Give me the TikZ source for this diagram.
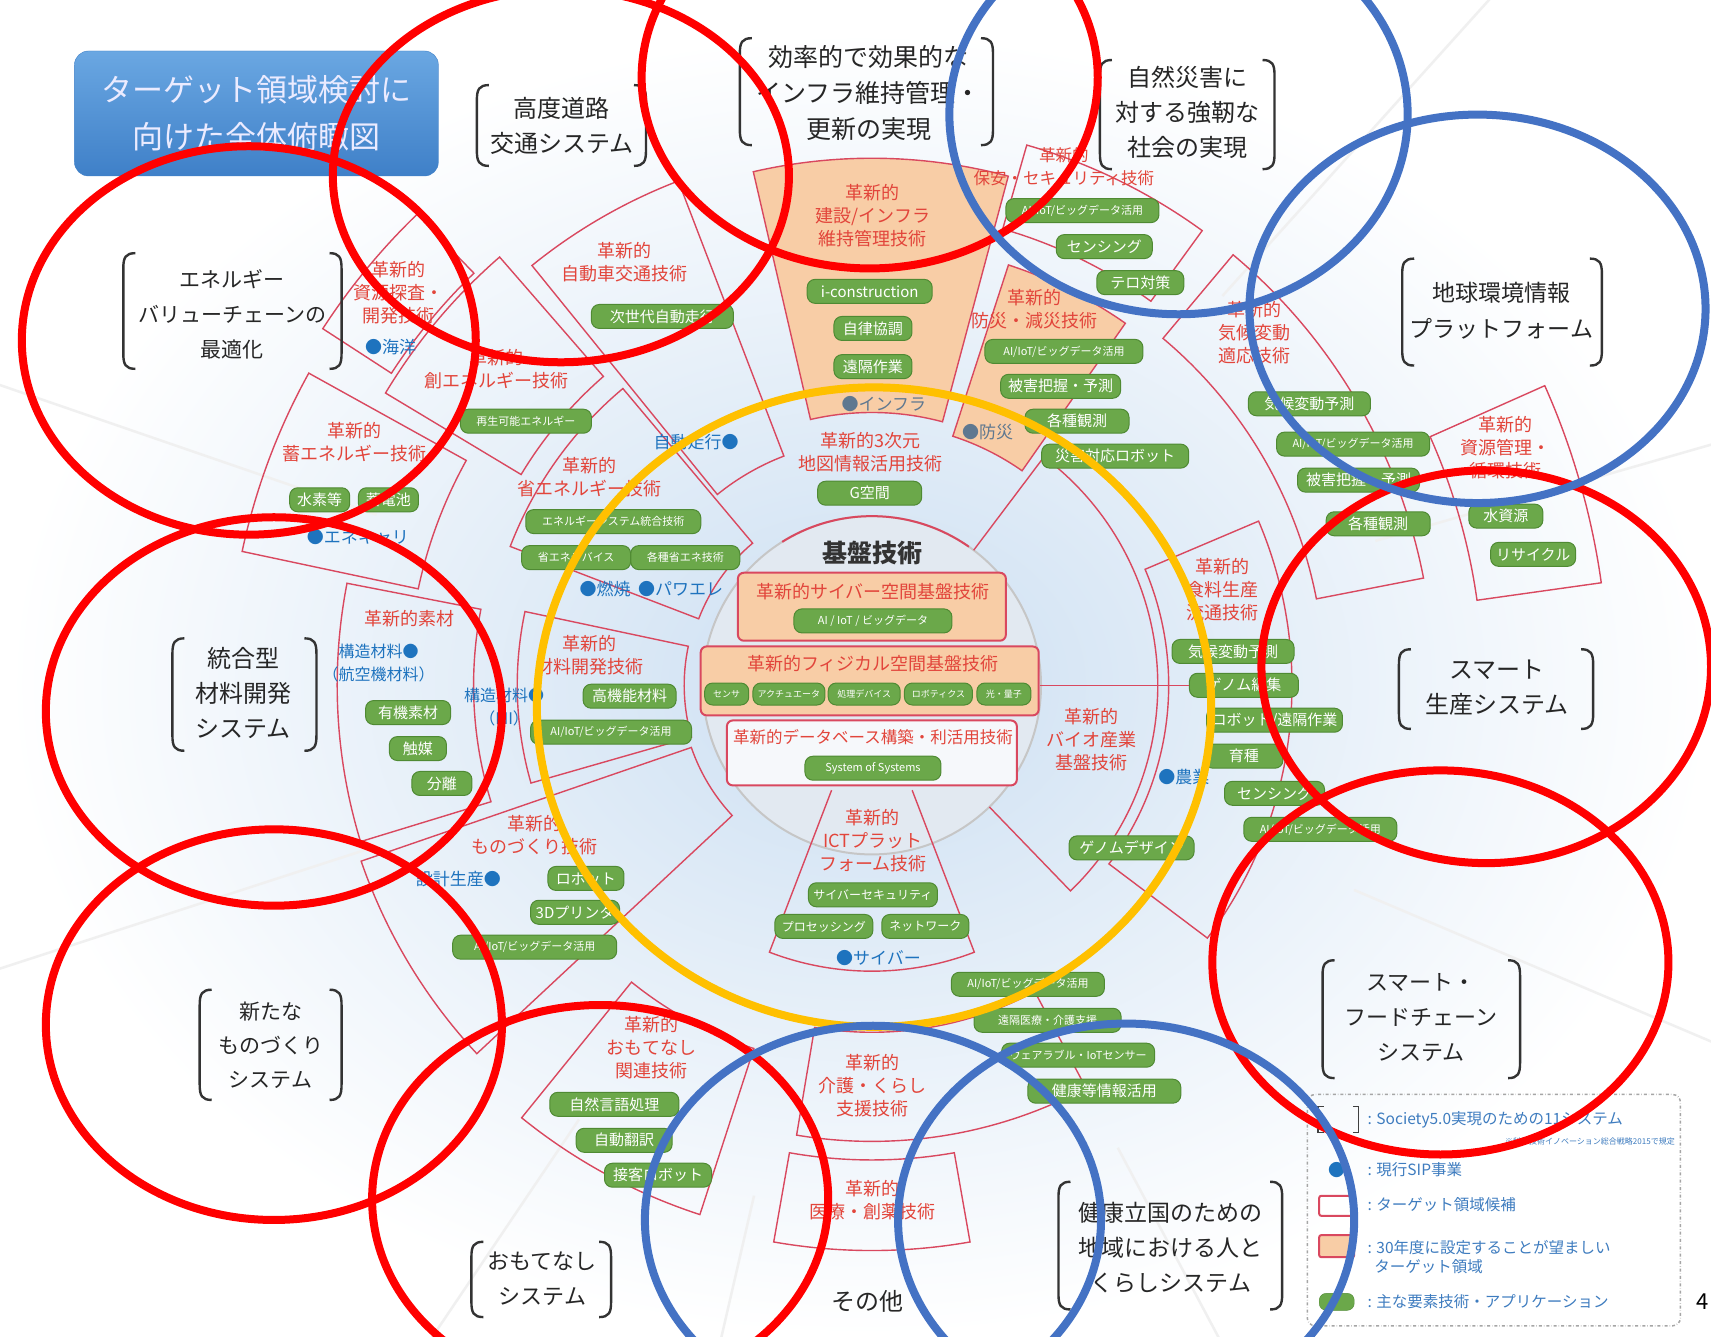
\documentclass[tikz,border=0pt]{standalone}
\usepackage{fontspec}
\setmainfont{Noto Sans CJK JP}
\usetikzlibrary{calc}
\definecolor{secred}{HTML}{D9485F}
\definecolor{txtred}{HTML}{E2453B}
\definecolor{pillg}{HTML}{6BA84A}
\definecolor{pillgd}{HTML}{4F8A33}
\definecolor{orfill}{HTML}{F8CDA6}
\definecolor{sipblue}{HTML}{1E73BE}
\definecolor{sipgray}{HTML}{5F7890}
\definecolor{legblue}{HTML}{3E7CBF}
\definecolor{annred}{HTML}{FF0000}
\definecolor{annblue}{HTML}{4472C4}
\definecolor{annor}{HTML}{FFC000}
\definecolor{bgblue}{HTML}{CCDFF2}
\definecolor{circfill}{HTML}{E2E9F1}
\definecolor{tblue1}{HTML}{6AA7E2}
\definecolor{tblue2}{HTML}{3F80C8}
\newcommand\mysector[5]{%
  \draw[#5] ($(C)+(#1:#3)$) arc[start angle=#1,end angle=#2,radius=#3]
    -- ($(C)+(#2:#4)$) arc[start angle=#2,end angle=#1,radius=#4] -- cycle;}
\newcommand\lbrk[3]{\draw[brk] (#1+11,#2) .. controls (#1+2,#2) and (#1,#2+4) .. (#1,#2+14) -- (#1,#3-14) .. controls (#1,#3-4) and (#1+2,#3) .. (#1+11,#3);}
\newcommand\rbrk[3]{\draw[brk] (#1-11,#2) .. controls (#1-2,#2) and (#1,#2+4) .. (#1,#2+14) -- (#1,#3-14) .. controls (#1,#3-4) and (#1-2,#3) .. (#1-11,#3);}
\begin{document}
\begin{tikzpicture}[x=1.0912pt,y=-1.0912pt,
  sys/.style={align=center,text=black!85},
  tred/.style={align=center,text=txtred,font=\fontsize{18}{23}\selectfont},
  pill/.style={fill=pillg,draw=pillgd,line width=1pt,rounded corners=8pt,text=white,font=\fontsize{15}{17}\selectfont,inner xsep=5pt,inner ysep=0pt,minimum height=24pt},
  spill/.style={pill,font=\fontsize{11}{13}\selectfont},
  tpill/.style={pill,font=\fontsize{9}{11}\selectfont,inner xsep=2pt,minimum height=22pt},
  sip/.style={text=sipblue,font=\fontsize{17}{21}\selectfont,align=center},
  sipg/.style={text=sipgray,font=\fontsize{17}{21}\selectfont},
  sec/.style={draw=secred,line width=1.4pt},
  secor/.style={sec,fill=orfill},
  cbox/.style={draw=secred,line width=2pt,rounded corners=6pt},
  brk/.style={draw=black!80,line width=2.4pt},
  ann/.style={line width=8pt},
  leg/.style={text=legblue,font=\fontsize{15.5}{19}\selectfont,anchor=west},
]
\useasboundingbox (0,0) rectangle (1568,1225);
\clip (0,0) rectangle (1568,1225);
% background
\fill[white] (0,0) rectangle (1568,1225);
\shade[inner color=bgblue,outer color=white] (8,29) rectangle (1568,1225);
\coordinate (C) at (799,628);
\foreach \a in {199,162,312,23,344,103,124,62}
  \draw[gray!12,line width=2.5pt] ($(C)+(\a:480)$) -- ($(C)+(\a:1100)$);
% central disc
\draw[fill=circfill,draw=gray!45,line width=2pt] (C) circle [radius=155];
\draw[secred,line width=2pt] ($(C)+(238:155)$) arc[start angle=238,end angle=305,radius=155];
% sectors
\mysector{257}{285}{250}{483}{secor}
\mysector{288}{305}{240}{405}{secor}
\mysector{286}{306}{435}{515}{sec}
\mysector{231}{249}{225}{495}{sec}
\mysector{213}{226}{525}{600}{sec}
\mysector{211}{229}{375}{520}{sec}
\mysector{192}{209}{425}{590}{sec}
\mysector{201}{230}{170}{355}{sec}
\mysector{163}{191}{365}{490}{sec}
\mysector{164}{192}{172}{325}{sec}
\mysector{137}{161}{175}{495}{sec}
\mysector{108}{129}{350}{510}{sec}
\mysector{62}{99.5}{318}{418}{sec}
\mysector{80}{100}{435}{518}{sec}
\mysector{337}{397}{272}{385}{sec}
\mysector{310}{349}{415}{515}{sec}
\mysector{336}{352}{560}{675}{sec}
\draw[sec] ($(C)+(307:155)$) -- ($(C)+(307:262)$) arc[start angle=307,end angle=406,radius=262] -- ($(C)+(406:155)$);
\draw[sec] ($(C)+(111:103)$) -- ($(C)+(111:262)$) arc[start angle=111,end angle=69,radius=262] -- ($(C)+(69:103)$);
% central content
\node[font=\fontsize{25}{28}\selectfont\bfseries,text=black!80] (kiban) at (800,507) {基盤技術};
\node[cbox,fill=orfill,minimum width=268pt,minimum height=68pt] (cyber) at (799,556) {};
\node[tred] (t-cyber) at (800,542) {革新的サイバー空間基盤技術};
\node[spill,minimum width=158pt] (p-aiiot) at (800,569) {AI / IoT / ビッグデータ};
\node[cbox,fill=orfill,minimum width=338pt,minimum height=69pt] (phys) at (797,624) {};
\node[tred] (t-phys) at (800,608) {革新的フィジカル空間基盤技術};
\node[tpill,minimum width=44pt] (p-sensor) at (666,636) {センサ};
\node[tpill,minimum width=72pt] (p-actu) at (723,636) {アクチュエータ};
\node[tpill,minimum width=72pt] (p-proc) at (792,636) {処理デバイス};
\node[tpill,minimum width=68pt] (p-robo) at (860,636) {ロボティクス};
\node[tpill,minimum width=54pt] (p-light) at (920,636) {光・量子};
\node[cbox,fill=white!70!circfill,minimum width=290pt,minimum height=65pt] (dbox) at (799,690) {};
\node[tred,font=\fontsize{16.5}{20}\selectfont] (t-db) at (800,676) {革新的データベース構築・利活用技術};
\node[spill,minimum width=136pt] (p-sos) at (800,704) {System of Systems};
% top: construction / infra
\node[tred] (t-const) at (800,198) {革新的\\建設/インフラ\\維持管理技術};
\node[pill,minimum width=125pt] (p-icons) at (797,267) {i-construction};
\node[pill,minimum width=78pt] (p-jiritsu) at (800,301) {自律協調};
\node[pill,minimum width=78pt] (p-enkaku) at (800,336) {遠隔作業};
\node[sipg] (b-infra) at (810,370) {●インフラ};
\node[tred] (t-3d) at (798,414) {革新的3次元\\地図情報活用技術};
\node[pill,minimum width=104pt] (p-g) at (797,452) {G空間};
% security
\node[tred,font=\fontsize{16.5}{23}\selectfont] (t-sec) at (975,153) {革新的\\保安・セキュリティ技術};
\node[spill,minimum width=153pt] (p-sec1) at (992,193) {AI/IoT/ビッグデータ活用};
\node[pill,minimum width=96pt] (p-sec2) at (1012,226) {センシング};
\node[pill,minimum width=87pt] (p-sec3) at (1045,259) {テロ対策};
% disaster prevention
\node[tred] (t-bousai) at (948,283) {革新的\\防災・減災技術};
\node[spill,minimum width=158pt] (p-bo1) at (975,322) {AI/IoT/ビッグデータ活用};
\node[pill,minimum width=120pt] (p-bo2) at (972,354) {被害把握・予測};
\node[pill,minimum width=104pt] (p-bo3) at (987,386) {各種観測};
\node[pill,minimum width=147pt] (p-bo4) at (1022,418) {災害対応ロボット};
\node[sipg] (b-bousai) at (905,396) {●防災};
% auto traffic
\node[tred] (t-auto) at (572,240) {革新的\\自動車交通技術};
\node[pill,minimum width=142pt] (p-auto) at (607,290) {次世代自動走行};
\node[sip] (b-auto) at (638,405) {自動走行●};
% resources exploration
\node[tred] (t-shigen) at (365,268) {革新的\\資源探査・\\開発技術};
\node[sip] (b-kaiyo) at (358,318) {●海洋};
% energy creation
\node[tred] (t-sou) at (455,338) {革新的\\創エネルギー技術};
\node[spill,minimum width=131pt] (p-sou) at (482,386) {再生可能エネルギー};
% storage
\node[tred] (t-chiku) at (325,405) {革新的\\蓄エネルギー技術};
\node[pill,minimum width=60pt] (p-h2) at (293,458) {水素等};
\node[pill,minimum width=60pt] (p-batt) at (356,458) {蓄電池};
\node[sip] (b-enecar) at (328,492) {●エネキャリ};
% energy saving
\node[tred] (t-shou) at (540,437) {革新的\\省エネルギー技術};
\node[spill,minimum width=175pt] (p-shou1) at (562,478) {エネルギーシステム統合技術};
\node[spill,minimum width=109pt] (p-shou2) at (528,511) {省エネデバイス};
\node[spill,minimum width=109pt] (p-shou3) at (628,511) {各種省エネ技術};
\node[sip] (b-nensho) at (597,540) {●燃焼\ \ ●パワエレ};
% materials
\node[tred] (t-sozai) at (375,567) {革新的素材};
\node[sip,font=\fontsize{16}{23}\selectfont] (b-kouzou1) at (347,608) {構造材料●\\（航空機材料）};
\node[pill,minimum width=85pt] (p-yuki) at (374,653) {有機素材};
\node[pill,minimum width=57pt] (p-shokubai) at (383,686) {触媒};
\node[pill,minimum width=60pt] (p-bunri) at (405,718) {分離};
\node[tred] (t-zairyo) at (540,600) {革新的\\材料開発技術};
\node[pill,minimum width=93pt] (p-kouki) at (577,638) {高機能材料};
\node[spill,minimum width=161pt] (p-zai2) at (560,671) {AI/IoT/ビッグデータ活用};
\node[sip,font=\fontsize{16}{23}\selectfont] (b-kouzou2) at (462,648) {構造材料●\\（MI）};
% monozukuri
\node[tred] (t-mono) at (490,765) {革新的\\ものづくり技術};
\node[sip] (b-sekkei) at (420,806) {設計生産●};
\node[pill,minimum width=76pt] (p-robot) at (537,805) {ロボット};
\node[pill,minimum width=89pt] (p-3d) at (527,836) {3Dプリンタ};
\node[spill,minimum width=164pt] (p-mono3) at (490,868) {AI/IoT/ビッグデータ活用};
% omotenashi
\node[tred] (t-omo) at (597,960) {革新的\\おもてなし\\関連技術};
\node[pill,minimum width=129pt] (p-nlp) at (563,1012) {自然言語処理};
\node[pill,minimum width=96pt] (p-trans) at (572,1045) {自動翻訳};
\node[pill,minimum width=107pt] (p-serv) at (603,1077) {接客ロボット};
% ICT
\node[tred] (t-ict) at (800,770) {革新的\\ICTプラット\\フォーム技術};
\node[pill,font=\fontsize{12}{14}\selectfont,minimum width=129pt] (p-cyber) at (800,820) {サイバーセキュリティ};
\node[pill,font=\fontsize{12}{14}\selectfont,minimum width=98pt] (p-procg) at (755,849) {プロセッシング};
\node[pill,font=\fontsize{12}{14}\selectfont,minimum width=87pt] (p-net) at (848,849) {ネットワーク};
\node[sip] (b-cyber) at (805,878) {●サイバー};
% care
\node[tred] (t-kaigo) at (800,995) {革新的\\介護・くらし\\支援技術};
\node[spill,minimum width=153pt] (p-ka1) at (942,902) {AI/IoT/ビッグデータ活用};
\node[spill,minimum width=147pt] (p-ka2) at (960,935) {遠隔医療・介護支援};
\node[spill,minimum width=153pt] (p-ka3) at (988,967) {ウェアラブル・IoTセンサー};
\node[pill,minimum width=153pt] (p-ka4) at (1012,1000) {健康等情報活用};
\node[tred] (t-iryo) at (800,1100) {革新的\\医療・創薬技術};
% bio
\node[tred] (t-bio) at (1000,678) {革新的\\バイオ産業\\基盤技術};
\node[pill,minimum width=125pt] (p-gdesign) at (1037,777) {ゲノムデザイン};
\node[sip] (b-nogyo) at (1085,712) {●農業};
% food
\node[tred] (t-food) at (1120,540) {革新的\\食料生産\\流通技術};
\node[pill,minimum width=122pt] (p-f1) at (1130,597) {気候変動予測};
\node[pill,minimum width=109pt] (p-genome) at (1140,628) {ゲノム編集};
\node[pill,minimum width=129pt] (p-f3) at (1168,660) {ロボット/遠隔作業};
\node[pill,minimum width=78pt] (p-f4) at (1140,693) {育種};
\node[pill,minimum width=100pt] (p-f5) at (1168,727) {センシング};
\node[spill,minimum width=153pt] (p-f6) at (1210,760) {AI/IoT/ビッグデータ活用};
\draw[sec] (p-genome.west -| phys.east) -- (p-genome.west);
% climate
\node[tred] (t-kikou) at (1150,305) {革新的\\気候変動\\適応技術};
\node[pill,minimum width=122pt] (p-k1) at (1200,370) {気候変動予測};
\node[spill,minimum width=153pt] (p-k2) at (1240,407) {AI/IoT/ビッグデータ活用};
\node[pill,minimum width=122pt] (p-k3) at (1245,440) {被害把握・予測};
\node[pill,minimum width=104pt] (p-k4) at (1263,480) {各種観測};
% resource management
\node[tred] (t-junkan) at (1380,410) {革新的\\資源管理・\\循環技術};
\node[pill,minimum width=74pt] (p-water) at (1380,473) {水資源};
\node[pill,minimum width=85pt] (p-recycle) at (1405,508) {リサイクル};
% system labels
\node[sys,font=\fontsize{24}{35}\selectfont] (s-road) at (515,115) {高度道路\\交通システム};
\lbrk{437}{78}{152} \rbrk{592}{78}{152}
\node[sys,font=\fontsize{25}{36}\selectfont] (s-infra) at (796,85) {効率的で効果的な\\インフラ維持管理・\\更新の実現};
\lbrk{678}{35}{133} \rbrk{910}{35}{133}
\node[sys,font=\fontsize{24}{35}\selectfont] (s-saigai) at (1088,103) {自然災害に\\対する強靭な\\社会の実現};
\lbrk{1008}{55}{155} \rbrk{1168}{55}{155}
\node[sys,font=\fontsize{23}{36}\selectfont] (s-earth) at (1376,285) {地球環境情報\\プラットフォーム};
\lbrk{1285}{237}{335} \rbrk{1468}{237}{335}
\node[sys,font=\fontsize{21}{35}\selectfont] (s-energy) at (213,288) {エネルギー\\バリューチェーンの\\最適化};
\lbrk{113}{232}{338} \rbrk{313}{232}{338}
\node[sys,font=\fontsize{24}{35}\selectfont] (s-mat) at (223,635) {統合型\\材料開発\\システム};
\lbrk{158}{585}{688} \rbrk{290}{585}{688}
\node[sys,font=\fontsize{24}{35}\selectfont] (s-smart) at (1372,630) {スマート\\生産システム};
\lbrk{1282}{595}{668} \rbrk{1460}{595}{668}
\node[sys,font=\fontsize{21}{34}\selectfont] (s-mono) at (248,958) {新たな\\ものづくり\\システム};
\lbrk{183}{907}{1008} \rbrk{313}{907}{1008}
\node[sys,font=\fontsize{22}{35}\selectfont] (s-food) at (1302,932) {スマート・\\フードチェーン\\システム};
\lbrk{1212}{880}{988} \rbrk{1393}{880}{988}
\node[sys,font=\fontsize{22}{35}\selectfont] (s-omo) at (497,1172) {おもてなし\\システム};
\lbrk{432}{1138}{1207} \rbrk{560}{1138}{1207}
\node[sys,font=\fontsize{23}{35}\selectfont] (s-health) at (1073,1143) {健康立国のための\\地域における人と\\くらしシステム};
\lbrk{970}{1083}{1200} \rbrk{1175}{1083}{1200}
\node[sys,font=\fontsize{24}{28}\selectfont] (s-other) at (795,1193) {その他};
\node[font=\fontsize{22}{26}\selectfont,anchor=east,inner sep=1pt] (pageno) at (1567,1193) {4};
% title
\node[top color=tblue1,bottom color=tblue2,draw=tblue2,rounded corners=14pt,minimum width=364pt,minimum height=125pt,align=center,text=white!92!blue,font=\fontsize{31}{47}\selectfont] (title) at (235,104) {ターゲット領域検討に\\向けた全体俯瞰図};
% legend
\draw[gray!70,dash dot,line width=1.5pt,rounded corners=8pt] (1198,1003) rectangle (1540,1215);
\draw[black!75,line width=1.6pt] (1213,1014) -- (1208,1014) -- (1208,1038) -- (1213,1038);
\draw[black!75,line width=1.6pt] (1240,1014) -- (1245,1014) -- (1245,1038) -- (1240,1038);
\node[leg] (l-sys) at (1250,1026) {: Society5.0実現のための11システム};
\node[text=legblue,font=\fontsize{8}{10}\selectfont,anchor=east] (l-note) at (1538,1046) {※科学技術イノベーション総合戦略2015で規定};
\node[text=sipblue,font=\fontsize{17}{20}\selectfont] (l-dot) at (1225,1072) {●};
\node[leg] (l-sip) at (1250,1072) {: 現行SIP事業};
\node[draw=secred,fill=white,line width=2pt,rounded corners=2pt,minimum width=35pt,minimum height=20pt] (l-r1) at (1225,1105) {};
\node[leg] (l-cand) at (1250,1104) {: ターゲット領域候補};
\node[draw=secred,fill=orfill,line width=2pt,rounded corners=2pt,minimum width=35pt,minimum height=22pt] (l-r2) at (1225,1142) {};
\node[leg,align=left] (l-30) at (1250,1152) {: 30年度に設定することが望ましい\\\ \ ターゲット領域};
\node[fill=pillg,draw=pillgd,rounded corners=7pt,minimum width=35pt,minimum height=17pt] (l-r3) at (1225,1193) {};
\node[leg] (l-pill) at (1250,1193) {: 主な要素技術・アプリケーション};
% annotation ellipses
\begin{scope}[ann]
\draw[annor] (801,648) ellipse [x radius=309,y radius=293];
\draw[annred] (514,161) ellipse [x radius=209,y radius=171];
\draw[annred] (797,71) ellipse [x radius=209,y radius=175];
\draw[annred] (228,312) ellipse [x radius=208,y radius=178];
\draw[annred] (251,652) ellipse [x radius=209,y radius=178];
\draw[annred] (251,939) ellipse [x radius=209,y radius=179];
\draw[annred] (550,1099) ellipse [x radius=209,y radius=178];
\draw[annred] (1362,611) ellipse [x radius=206,y radius=180];
\draw[annred] (1320,882) ellipse [x radius=209,y radius=176];
\draw[annblue] (1080,105) ellipse [x radius=210,y radius=183];
\draw[annblue] (1354,283) ellipse [x radius=209,y radius=178];
\draw[annblue] (800,1118) ellipse [x radius=209,y radius=178];
\draw[annblue] (1032,1118) ellipse [x radius=209,y radius=180];
\end{scope}
\end{tikzpicture}
\end{document}
